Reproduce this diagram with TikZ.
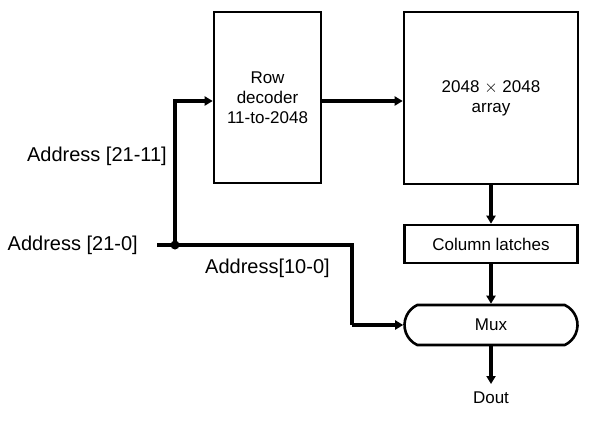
\documentclass[tikz,border=0pt]{standalone}
\usepackage{fontspec}
\setmainfont{Liberation Sans}
\usetikzlibrary{arrows.meta,shapes.misc}
\begin{document}
\begin{tikzpicture}[x=1pt,y=-1pt,
  blk/.style={draw,line width=2.6pt,inner sep=0pt,font=\fontsize{17}{20}\selectfont,align=center},
  lbl/.style={font=\fontsize{20}{22}\selectfont,inner sep=0pt},
  wire/.style={line width=3.4pt},
  arr/.style={wire,-{Triangle[length=8pt,width=9pt]}}]
\useasboundingbox (0,0) rectangle (609,424);
\node[blk,minimum width=107pt,minimum height=171pt] (rd) at (267.5,97.5) {Row\\decoder\\11-to-2048};
\node[blk,minimum width=174pt,minimum height=172pt] (ar) at (491,98) {2048 $\times$ 2048\\array};
\node[blk,minimum width=173pt,minimum height=38pt] (cl) at (491,244) {Column latches};
\node[blk,rounded rectangle,rounded rectangle arc length=130,minimum width=173pt,minimum height=40pt] (mx) at (491,325) {Mux};
\node[blk,draw=none] (dout) at (491,398) {Dout};
\node[lbl,anchor=east] (a0) at (138,245) {Address [21-0]};
\node[lbl,anchor=east] (a11) at (167,156) {Address [21-11]};
\node[lbl,anchor=west] (a10) at (205,268) {Address[10-0]};
\coordinate (start) at (157,245);
\coordinate (j) at (175,245);
\coordinate (c1) at (175,101);
\coordinate (c2) at (352,245);
\coordinate (c3) at (352,325);
\draw[wire] (start) -- (j) -- (c2) -- (c3);
\draw[arr] (c3) -- (mx.west);
\draw[arr] (j) -- (c1) -- (rd.west |- c1);
\fill (j) circle (4.5pt);
\draw[arr] (rd.east |- c1) -- (ar.west |- c1);
\draw[arr] (ar.south) -- (cl.north);
\draw[arr] (cl.south) -- (mx.north);
\draw[arr] (mx.south) -- (491,384);
\end{tikzpicture}
\end{document}
